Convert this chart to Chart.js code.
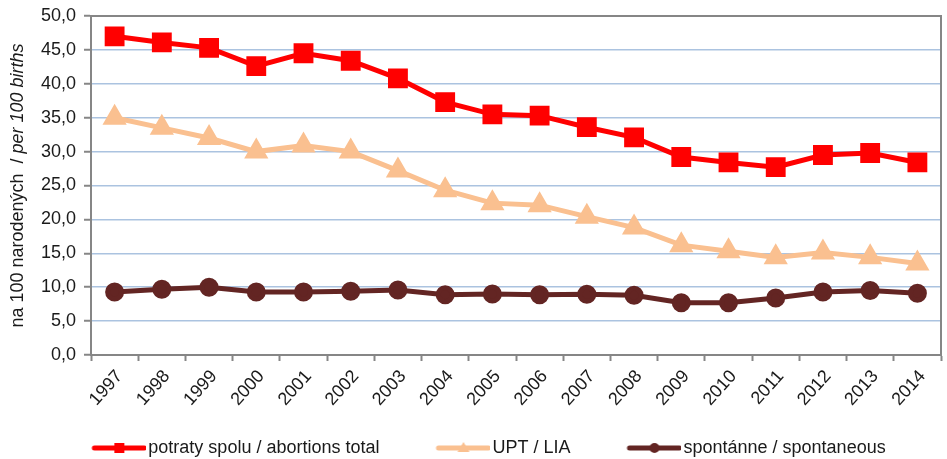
<!DOCTYPE html>
<html>
<head>
<meta charset="utf-8">
<script src="https://cdn.jsdelivr.net/npm/chart.js@4.4.0/dist/chart.umd.min.js"></script>
<style>
html,body{margin:0;padding:0;background:#fff;}
#wrap{width:947px;height:459px;position:relative;}
</style>
</head>
<body>
<div id="wrap"><canvas id="c" width="947" height="459"></canvas></div>
<script>
const years = ['1997','1998','1999','2000','2001','2002','2003','2004','2005','2006','2007','2008','2009','2010','2011','2012','2013','2014'];
const abortionsTotal = [47.0,46.1,45.3,42.6,44.5,43.4,40.8,37.3,35.5,35.3,33.6,32.1,29.2,28.4,27.7,29.5,29.8,28.4];
const induced = [35.0,33.5,32.0,30.0,30.9,30.0,27.2,24.3,22.4,22.1,20.4,18.8,16.2,15.3,14.4,15.1,14.4,13.5];
const spontaneous = [9.3,9.7,10.0,9.3,9.3,9.4,9.6,8.9,9.0,8.9,8.95,8.8,7.7,7.7,8.4,9.3,9.5,9.1];
const seriesLabels = ['potraty spolu / abortions total','UPT / LIA','spontánne / spontaneous'];
const yTitleNormal = 'na 100 narodených  / ';
const yTitleItalic = 'per 100 births';

const RED = '#ff0000', ORANGE = '#fac090', BROWN = '#632523';
const AXIS = '#868686', GRID = '#abc3e0';
const FONT = "'Liberation Sans', Arial, sans-serif";

const LEG_W = 84;
const IMG_W = LEG_W + 14;
function legendImg(color, shape){
  const cv = document.createElement('canvas');
  cv.width = IMG_W; cv.height = 16;
  const g = cv.getContext('2d');
  const x1 = IMG_W - 2, x0 = x1 - 50, cx = (x0 + x1) / 2;
  g.strokeStyle = color; g.lineWidth = 5; g.lineCap = 'round';
  g.beginPath(); g.moveTo(x0, 8); g.lineTo(x1, 8); g.stroke();
  g.fillStyle = color;
  g.beginPath();
  if (shape === 'rect') g.rect(cx - 5, 3, 10, 10);
  else if (shape === 'triangle') { g.moveTo(cx, 2); g.lineTo(cx + 6, 12); g.lineTo(cx - 6, 12); g.closePath(); }
  else g.arc(cx, 8, 5, 0, Math.PI*2);
  g.fill();
  return cv;
}
const legendImgs = [legendImg(RED,'rect'), legendImg(ORANGE,'triangle'), legendImg(BROWN,'circle')];

const frame = {
  id:'frame',
  beforeDatasetsDraw(chart){
    const a = chart.chartArea, ctx = chart.ctx;
    ctx.save();
    ctx.strokeStyle = AXIS; ctx.lineWidth = 2;
    ctx.beginPath();
    ctx.moveTo(a.left, a.top); ctx.lineTo(a.right, a.top); ctx.lineTo(a.right, a.bottom);
    ctx.stroke();
    ctx.restore();
  },
  afterDraw(chart){
    const ctx = chart.ctx, a = chart.chartArea;
    ctx.save();
    ctx.translate(18, (a.top + a.bottom)/2);
    ctx.rotate(-Math.PI/2);
    ctx.fillStyle = '#1a1a1a';
    ctx.textBaseline = 'middle';
    const fN = "18px " + FONT, fI = "italic 18px " + FONT;
    ctx.font = fN; const w1 = ctx.measureText(yTitleNormal).width;
    ctx.font = fI; const w2 = ctx.measureText(yTitleItalic).width;
    let x = -(w1 + w2)/2;
    ctx.font = fN; ctx.textAlign = 'left'; ctx.fillText(yTitleNormal, x, 0);
    ctx.font = fI; ctx.fillText(yTitleItalic, x + w1, 0);
    ctx.restore();
  }
};

new Chart(document.getElementById('c'), {
  type:'line',
  data:{
    labels: years,
    datasets:[
      {label:seriesLabels[0], data:abortionsTotal, borderColor:RED, backgroundColor:RED, borderWidth:5,
       pointStyle:'rect', pointRadius:10.5, pointHoverRadius:10.5, tension:0},
      {label:seriesLabels[1], data:induced, borderColor:ORANGE, backgroundColor:ORANGE, borderWidth:5,
       pointStyle:'triangle', pointRadius:9, pointHoverRadius:9, tension:0},
      {label:seriesLabels[2], data:spontaneous, borderColor:BROWN, backgroundColor:BROWN, borderWidth:5,
       pointStyle:'circle', pointRadius:7, pointHoverRadius:7, tension:0}
    ]
  },
  options:{
    responsive:false,
    animation:false,
    layout:{autoPadding:false, padding:{left:0,right:6,top:16,bottom:-8}},
    plugins:{
      tooltip:{enabled:false},
      legend:{
        position:'bottom',
        labels:{
          usePointStyle:true,
          pointStyleWidth:LEG_W,
          boxHeight:16,
          padding:20,
          color:'#1a1a1a',
          font:{family:FONT, size:18},
          generateLabels(chart){
            return chart.data.datasets.map((d,i)=>({
              text:d.label, pointStyle:legendImgs[i], fillStyle:d.borderColor,
              strokeStyle:d.borderColor, lineWidth:0, hidden:false, datasetIndex:i, fontColor:'#1a1a1a'
            }));
          }
        }
      }
    },
    scales:{
      x:{
        offset:true,
        grid:{display:true, drawOnChartArea:false, offset:true, tickColor:AXIS, tickLength:6, tickWidth:2},
        border:{color:AXIS, width:2},
        ticks:{color:'#1a1a1a', font:{family:FONT, size:18}, minRotation:48, maxRotation:48, padding:5, labelOffset:5},
        afterFit(s){ s.height = 64; s.paddingLeft = 0; s.paddingRight = 0; }
      },
      y:{
        min:0, max:50,
        ticks:{stepSize:5, color:'#1a1a1a', font:{family:FONT, size:18}, padding:8,
          callback:v=>v.toFixed(1).replace('.',',')},
        grid:{color:(c)=> c.index===0 ? 'rgba(0,0,0,0)' : GRID, lineWidth:1.5, tickColor:AXIS, tickLength:7, tickWidth:2},
        border:{color:AXIS, width:2},
        afterFit(s){ s.width = 91; s.paddingTop = 0; s.paddingBottom = 0; }
      }
    }
  },
  plugins:[frame]
});
</script>
</body>
</html>
